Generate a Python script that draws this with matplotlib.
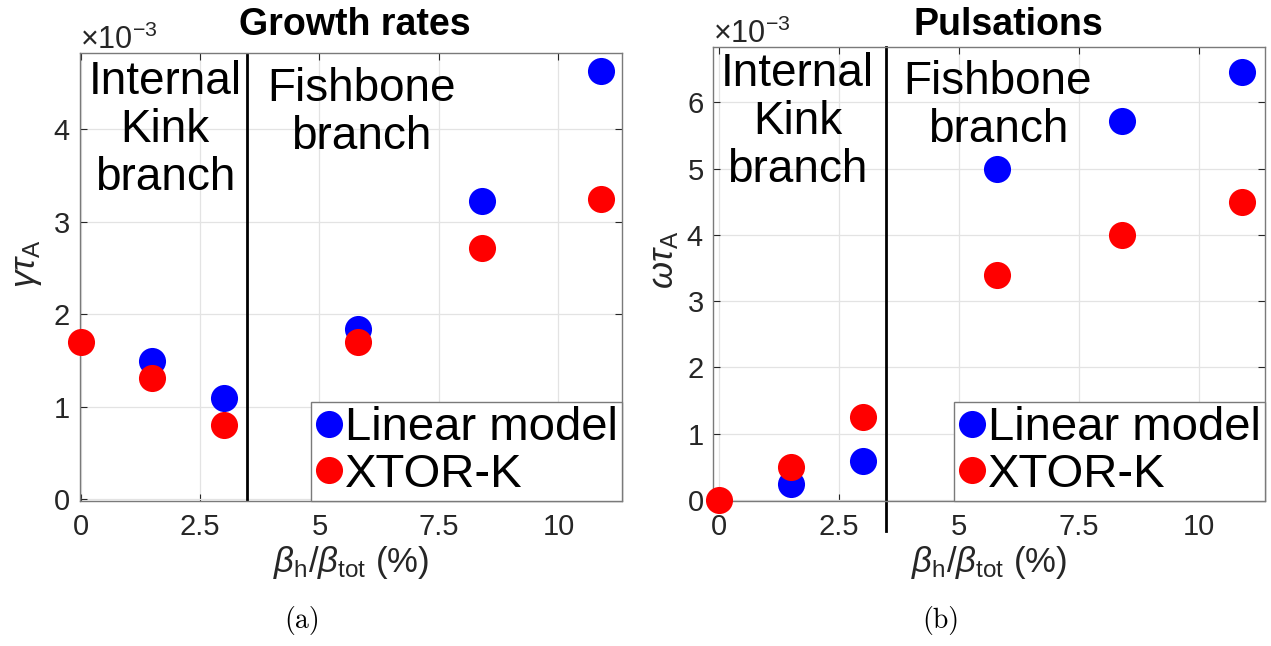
import matplotlib
matplotlib.use('Agg')
import matplotlib.pyplot as plt
import matplotlib.transforms as mtransforms
from matplotlib.ticker import ScalarFormatter, MultipleLocator, FuncFormatter
import numpy as np

plt.rcParams['font.family'] = ['Liberation Sans', 'DejaVu Sans']
plt.rcParams['mathtext.fontset'] = 'custom'
plt.rcParams['mathtext.rm'] = 'Liberation Sans'
plt.rcParams['mathtext.it'] = 'Liberation Sans:italic'
plt.rcParams['mathtext.bf'] = 'Liberation Sans:bold'

# DATA (rates in units of 1e-3)
beta_linear = [1.5, 3.0, 5.8, 8.4, 10.9]
beta_xtor = [0.0, 1.5, 3.0, 5.8, 8.4, 10.9]
gamma_linear = [1.49, 1.10, 1.84, 3.23, 4.63]
gamma_xtor = [1.70, 1.31, 0.80, 1.70, 2.72, 3.25]
omega_linear = [0.24, 0.59, 4.99, 5.72, 6.46]
omega_xtor = [0.0, 0.50, 1.25, 3.39, 4.00, 4.49]
branch_limit = 3.49
xticks = [0, 2.5, 5, 7.5, 10]
labels = ['Linear model', 'XTOR-K']

GRAY = '#262626'

fig = plt.figure(figsize=(12.71, 6.46), dpi=100)
ax1 = fig.add_axes([0.0626, 0.2249, 0.4268, 0.6931])
ax2 = fig.add_axes([0.5612, 0.2249, 0.4341, 0.7019])


def style_axes(ax, ylim, xlim):
    ax.set_xlim(*xlim)
    ax.set_ylim(*ylim)
    ax.set_xticks(xticks)
    ax.xaxis.set_major_formatter(FuncFormatter(lambda v, p: '%g' % v))
    ax.yaxis.set_major_locator(MultipleLocator(1e-3))
    fmt = ScalarFormatter(useMathText=True)
    fmt.set_powerlimits((0, 0))
    ax.yaxis.set_major_formatter(fmt)
    ax.tick_params(direction='in', top=True, right=True, length=5, width=0.8,
                   color=GRAY, labelsize=21, labelcolor=GRAY)
    ax.tick_params(axis='x', pad=9)
    ax.tick_params(axis='y', pad=7)
    ax.yaxis.get_offset_text().set_fontsize(22)
    ax.yaxis.get_offset_text().set_color(GRAY)
    for s in ax.spines.values():
        s.set_color('#7a7a7a')
        s.set_linewidth(1.0)
    ax.grid(True, color='#e3e3e3', lw=0.9)
    ax.set_axisbelow(True)


def draw_points(ax, ylin, yxtor):
    ax.plot(beta_linear, np.array(ylin) * 1e-3, 'o', color='#0000ff', ms=19.5,
            mec='none', clip_on=False, label=labels[0], zorder=3)
    ax.plot(beta_xtor, np.array(yxtor) * 1e-3, 'o', color='#ff0000', ms=19.5,
            mec='none', clip_on=False, label=labels[1], zorder=4)
    ax.legend(loc='lower right', fontsize=34, borderaxespad=0, handlelength=0.6,
              handletextpad=0.05, borderpad=0.08, labelspacing=0.06,
              fancybox=False, framealpha=1, edgecolor='#7a7a7a')


# (a) growth rates
style_axes(ax1, (-0.015e-3, 4.825e-3), (-0.02, 11.33))
draw_points(ax1, gamma_linear, gamma_xtor)
ax1.axvline(branch_limit, color='k', lw=2, zorder=2)
ax1.set_ylabel(r'$\gamma\tau_{\mathrm{A}}$', fontsize=25, color=GRAY)
ax1.yaxis.set_label_coords(-0.066, 0.53)
ax1.set_xlabel(r'$\beta_{\mathrm{h}}/\beta_{\mathrm{tot}}$ (%)', fontsize=25, color=GRAY)
ax1.xaxis.set_label_coords(0.5, -0.097)
tr1 = mtransforms.blended_transform_factory(ax1.transData, ax1.transAxes)
ax1.text(1.77, 0.985, 'Internal\nKink\nbranch', transform=tr1, ha='center', va='top',
         fontsize=33, linespacing=1.12)
ax1.text(5.87, 0.968, 'Fishbone\nbranch', transform=tr1, ha='center', va='top',
         fontsize=33, linespacing=1.12)

# (b) pulsations
style_axes(ax2, (-0.01e-3, 6.83e-3), (-0.115, 11.37))
draw_points(ax2, omega_linear, omega_xtor)
ax2.plot([branch_limit, branch_limit], [-0.46e-3, 6.83e-3], color='k', lw=2,
         clip_on=False, zorder=2)
ax2.set_ylabel(r'$\omega\tau_{\mathrm{A}}$', fontsize=25, color=GRAY)
ax2.yaxis.set_label_coords(-0.058, 0.53)
ax2.set_xlabel(r'$\beta_{\mathrm{h}}/\beta_{\mathrm{tot}}$ (%)', fontsize=25, color=GRAY)
ax2.xaxis.set_label_coords(0.5, -0.096)
tr2 = mtransforms.blended_transform_factory(ax2.transData, ax2.transAxes)
ax2.text(1.64, 0.990, 'Internal\nKink\nbranch', transform=tr2, ha='center', va='top',
         fontsize=33, linespacing=1.12)
ax2.text(5.81, 0.972, 'Fishbone\nbranch', transform=tr2, ha='center', va='top',
         fontsize=33, linespacing=1.12)

# titles and sub-captions
fig.text(354.5 / 1271, 1 - 35 / 646, 'Growth rates', ha='center', va='baseline',
         fontsize=27, fontweight='bold')
fig.text(1008.8 / 1271, 1 - 35 / 646, 'Pulsations', ha='center', va='baseline',
         fontsize=27, fontweight='bold')
fig.text(301.7 / 1271, 0.039, '(a)', family='cmr10', fontsize=20, ha='center', va='center')
fig.text(941.0 / 1271, 0.039, '(b)', family='cmr10', fontsize=20, ha='center', va='center')

fig.savefig('out.png', dpi=100)
